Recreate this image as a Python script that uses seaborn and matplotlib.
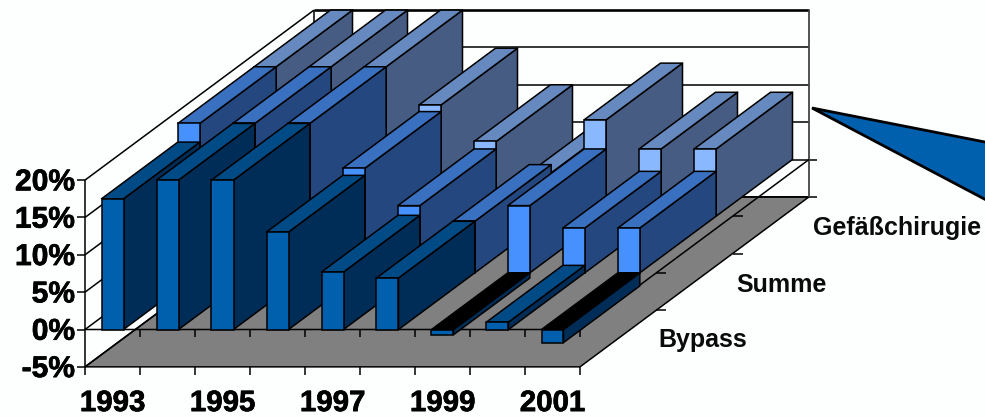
import matplotlib
matplotlib.use("Agg")
import matplotlib.pyplot as plt
import matplotlib.patheffects as pe
import matplotlib.transforms as mtransforms
import pandas as pd
import seaborn as sns

# values, the axis stops at 20 %
years = [1993, 1994, 1995, 1996, 1997, 1998, 1999, 2000, 2001]
series_names = ["Bypass", "Summe", "Gefäßchirugie"]
bypass = [17.5, 20, 20, 13.05, 7.7, 6.9, -0.7, 1.0, -1.75]
summe = [20, 20, 20, 14.0, 9.0, 6.9, 9.0, 6.0, 6.0]
gefaess = [20, 20, 20, 14.9, 10.0, 5.8, 12.9, 9.0, 9.0]
pct_ticks = [-5, 0, 5, 10, 15, 20]
year_labels = ["1993", "1995", "1997", "1999", "2001"]

front_cols = ["#0060AE", "#4791FF", "#8AB8FF"]
top_cols = ["#004A86", "#3A70C0", "#668ABF"]
side_cols = ["#002D57", "#24477F", "#465C82"]

# layout of the 3d box in pixels
PX_CAT = 55.0
PX_PCT = 7.47
X0 = 85.0
Y0 = 329.5
DEPTH_X = 229.0 / 3 / PX_CAT     # one series deep, in category units
DEPTH_Y = 170.0 / 3 / PX_PCT     # one series deep, in percent units
BAR_W = 0.4

sns.set_theme(style="white")
plt.rcParams["font.family"] = ["Liberation Sans", "DejaVu Sans"]
plt.rcParams["font.weight"] = "bold"

fig = plt.figure(figsize=(9.85, 4.17), dpi=100, facecolor="#FDFFFF")
ax = fig.add_axes([0, 0, 1, 1])
ax.set_facecolor("none")
heavy = [pe.withStroke(linewidth=0.5, foreground="black")]


def pr(cat, pct, depth=0.0):
    return cat + depth * DEPTH_X, pct + depth * DEPTH_Y


def line(points, lw=1.1, color="black", z=1):
    ax.plot([p[0] for p in points], [p[1] for p in points], color=color, lw=lw,
            zorder=z, solid_capstyle="butt")


n = len(years)
# floor at -5 %
floor = [pr(0, -5), pr(n, -5), pr(n, -5, 3), pr(0, -5, 3)]
ax.fill([p[0] for p in floor], [p[1] for p in floor], color="#808080", lw=0, zorder=0.5)
line([floor[0], floor[1], floor[2], floor[3], floor[0]])

# walls
for v in pct_ticks:
    line([pr(0, v), pr(0, v, 3)])
    line([pr(0, v, 3), pr(n, v, 3)], lw=1.9 if v == 20 else 1.1)
    line([pr(-8 / PX_CAT, v), pr(0, v)])
    if v <= 0:
        line([pr(n, v, 3), pr(n + 8 / PX_CAT, v, 3)])
line([pr(0, 20), pr(0, -5), (0, -5 - 8 / PX_PCT)])
line([pr(0, 20, 3), pr(0, -5, 3)])
line([pr(n, 20, 3), pr(n, -5, 3)], color="#444444", lw=1.3)
line([pr(0, 0), pr(n, 0), pr(n, 0, 3)])
for i in range(1, n + 1):
    line([pr(i, 0), pr(i, -7 / PX_PCT)])
    line([pr(i, -5), pr(i, -5 - 8 / PX_PCT)])
for d in [1, 2]:
    for v in [0, -5]:
        line([pr(n, v, d), pr(n + 10 / PX_CAT, v, d)])

# bars, back row first
all_values = [bypass, summe, gefaess]
for s in [2, 1, 0]:
    vals = all_values[s]
    z = 5 - s
    for i, v in enumerate(vals):
        left = i + 0.5 - BAR_W / 2
        right = i + 0.5 + BAR_W / 2
        side = [pr(right, 0, s), pr(right, 0, s + 1), pr(right, v, s + 1), pr(right, v, s)]
        top_y = max(v, 0)
        top = [pr(left, top_y, s), pr(right, top_y, s), pr(right, top_y, s + 1), pr(left, top_y, s + 1)]
        top_col = "black" if v < 0 else top_cols[s]
        ax.fill([p[0] for p in side], [p[1] for p in side], facecolor=side_cols[s],
                edgecolor="black", lw=1.1, zorder=z, joinstyle="round")
        ax.fill([p[0] for p in top], [p[1] for p in top], facecolor=top_col,
                edgecolor="black", lw=1.1, zorder=z, joinstyle="round")
    df = pd.DataFrame({"pos": [i + 0.5 for i in range(n)], "value": vals})
    shift = mtransforms.Affine2D().translate(s * DEPTH_X, s * DEPTH_Y) + ax.transData
    sns.barplot(data=df, x="pos", y="value", ax=ax, native_scale=True, width=BAR_W,
                color=front_cols[s], saturation=1, edgecolor="black", linewidth=1.1,
                errorbar=None, legend=False, zorder=z + 0.5, transform=shift)

# tick labels
for v in pct_ticks:
    ax.text(-10 / PX_CAT, v - 0.3, f"{v}%", ha="right", va="center", fontsize=21.6,
            fontweight="bold", color="black", zorder=8, path_effects=heavy)
for j, lab in enumerate(year_labels):
    ax.text(2 * j + 0.5, -9.85, lab, ha="center", va="center", fontsize=21.2,
            fontweight="bold", color="black", zorder=8, path_effects=heavy)
label_pos = [(703.0, 340.5), (781.0, 284.5), (897.0, 228.5)]
for name, (px, py) in zip(series_names, label_pos):
    ax.text((px - X0) / PX_CAT, (Y0 - py) / PX_PCT, name, ha="center", va="center",
            fontsize=18.0, fontweight="bold", color="#0A0A0A", zorder=8)

# callout wedge running off to the right
wedge = [(812, 108), (990, 143), (990, 202)]
ax.fill([(p[0] - X0) / PX_CAT for p in wedge], [(Y0 - p[1]) / PX_PCT for p in wedge],
        facecolor="#0060AE", edgecolor="black", lw=2.0, zorder=7, clip_on=True)

ax.set_xlim(-X0 / PX_CAT, (985 - X0) / PX_CAT)
ax.set_ylim((Y0 - 417) / PX_PCT, Y0 / PX_PCT)
ax.set_xlabel("")
ax.set_ylabel("")
ax.axis("off")

fig.savefig("out.png", dpi=100)
print("completed")
